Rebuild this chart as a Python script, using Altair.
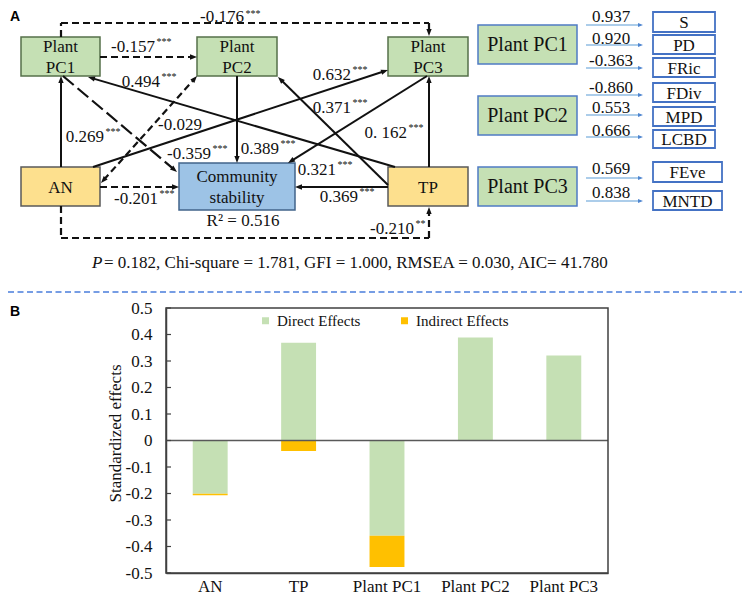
import math
import altair as alt
import pandas as pd

SERIF = "Liberation Serif"
SANS = "Liberation Sans"
INK = "#111111"

# ============================ DATA ============================
# Panel A - structural equation model
node_names = ["Plant PC1", "Plant PC2", "Plant PC3", "AN", "Community stability", "TP"]
node_texts = ["Plant\nPC1", "Plant\nPC2", "Plant\nPC3", "AN", "Community\nstability", "TP"]
node_groups = ["plant", "plant", "plant", "soil", "response", "soil"]

path_from = ["AN", "TP", "Plant PC2", "TP", "AN", "Plant PC1", "TP", "AN",
             "TP", "Plant PC3", "Plant PC1", "AN", "Plant PC1", "AN"]
path_to = ["Plant PC1", "Plant PC3", "Community stability", "Community stability",
           "Community stability", "Plant PC2", "Plant PC1", "Plant PC3", "Plant PC2",
           "Community stability", "Community stability", "Plant PC2", "Plant PC3", "TP"]
path_coef = ["0.269", "0. 162", "0.389", "0.369", "-0.201", "-0.157", "0.494", "0.632",
             "0.371", "0.321", "-0.359", "-0.029", "-0.176", "-0.210"]
path_sig = ["***", "***", "***", "***", "***", "***", "***", "***",
            "***", "***", "***", "", "***", "**"]
r_squared_text = "R² = 0.516"
fit_p_symbol = "P"
fit_stats_text = "= 0.182, Chi-square = 1.781, GFI = 1.000, RMSEA = 0.030,  AIC= 41.780"

# PCA loadings shown on the right of panel A
loading_pc = ["Plant PC1", "Plant PC1", "Plant PC1", "Plant PC2", "Plant PC2", "Plant PC2",
              "Plant PC3", "Plant PC3"]
loading_var = ["S", "PD", "FRic", "FDiv", "MPD", "LCBD", "FEve", "MNTD"]
loading_val = ["0.937", "0.920", "-0.363", "-0.860", "0.553", "0.666", "0.569", "0.838"]
pc_names = ["Plant PC1", "Plant PC2", "Plant PC3"]

# Panel B - standardized effects on community stability
effect_vars = ["AN", "TP", "Plant PC1", "Plant PC2", "Plant PC3"]
direct_effects = [-0.201, 0.369, -0.359, 0.389, 0.321]
indirect_effects = [-0.006, -0.040, -0.118, 0.0, 0.0]
effect_types = ["Direct Effects", "Indirect Effects"]
y_tick_values = [-0.5, -0.4, -0.3, -0.2, -0.1, 0.0, 0.1, 0.2, 0.3, 0.4, 0.5]
y_title = "Standardized effects"

# ============================ LAYOUT (page pixels) ============================
PAGE = 8
W, H = 734, 588
LH = 21  # line height of two-line box labels

box_geom = {
    "Plant PC1": (21, 100, 37, 76),
    "Plant PC2": (197, 277, 37, 76),
    "Plant PC3": (388, 468, 37, 76),
    "AN": (21, 100, 167, 206),
    "Community stability": (179, 295, 163, 210),
    "TP": (388, 468, 167, 206),
}
group_style = {
    "plant": ("#C5E0B4", "#55704A"),
    "soil": ("#FDE08E", "#5A5A5A"),
    "response": ("#9DC3E6", "#41648A"),
}
path_points = [
    [(61, 167), (61, 76)],
    [(429, 167), (429, 76)],
    [(237, 76), (237, 163)],
    [(388, 187), (295, 187)],
    [(100, 187), (179, 187)],
    [(100, 57), (197, 57)],
    [(395, 167), (88, 77)],
    [(93, 167), (388, 70)],
    [(388, 185), (278, 77)],
    [(427, 76), (288, 163)],
    [(63, 76), (177, 172)],
    [(101, 183), (197, 76)],
    [(61, 37), (61, 23), (429, 23), (429, 36)],
    [(61, 206), (61, 238), (429, 238), (429, 207)],
]
path_stroke = ["solid", "solid", "solid", "solid", "dash", "dash", "solid", "solid",
               "solid", "solid", "longdash", "dash", "dash", "dash"]
path_two_heads = [False] * 11 + [True, False, False]
label_anchor = [(104, 137), (407, 133), (279, 149), (358, 197), (158, 199), (155, 47),
                (160, 82), (351, 75), (351, 108), (336, 170), (211, 154), (202, 125),
                (244, 16.5), (414, 229)]
star_dy = [-5] * 12 + [-2.5, -5]

pc_box_geom = {"Plant PC1": (478, 577, 25, 64), "Plant PC2": (478, 577, 96, 135),
               "Plant PC3": (478, 577, 167, 206)}
var_box_geom = [(653, 715, 12, 32), (653, 715, 35, 54), (653, 715, 58, 77),
                (653, 715, 83, 102), (653, 715, 107, 126), (653, 715, 130, 148),
                (653, 722, 162, 182), (653, 722, 191, 210)]
load_arrow_y = [25, 45, 68, 95, 115, 137, 178, 201]
load_arrow_x = (586, 643)
load_label_pos = [(611, 17), (611, 39), (611, 61), (611, 88), (611, 108), (611, 131),
                  (611, 169), (611, 193)]

BX0, BX1 = 166, 608      # panel B frame, page px
BY_TOP, BY_BOT = 308, 573

ARROW = "M0,0L-0.38,1L0.38,1Z"

# ============================ PANEL A ============================
XA = alt.Scale(domain=[PAGE, PAGE + W], range=[0, W], nice=False, zero=False)
YA = alt.Scale(domain=[PAGE, PAGE + H], range=[0, H], nice=False, zero=False)


def X(f):
    return alt.X(f"{f}:Q", scale=XA, axis=None)


def Y(f):
    return alt.Y(f"{f}:Q", scale=YA, axis=None)


# boxes
box_rows = []
text_rows = []
for name, txt, grp in zip(node_names, node_texts, node_groups):
    x0, x1, y0, y1 = box_geom[name]
    fill, stroke = group_style[grp]
    box_rows.append(dict(x=x0, x2=x1, y=y0, y2=y1, fill=fill, stroke=stroke, sw=1.5))
    n_lines = txt.count("\n") + 1
    text_rows.append(dict(x=(x0 + x1) / 2, y=(y0 + y1) / 2 - (n_lines - 1) * LH / 2 + 1,
                          text=txt, fs=17))
for name in pc_names:
    x0, x1, y0, y1 = pc_box_geom[name]
    box_rows.append(dict(x=x0, x2=x1, y=y0, y2=y1, fill="#C5E0B4", stroke="#4F7BC4", sw=1.5))
    text_rows.append(dict(x=(x0 + x1) / 2, y=(y0 + y1) / 2, text=name, fs=20))
for var, (x0, x1, y0, y1) in zip(loading_var, var_box_geom):
    box_rows.append(dict(x=x0, x2=x1, y=y0, y2=y1, fill="#FFFFFF", stroke="#4472C4", sw=1.8))
    text_rows.append(dict(x=(x0 + x1) / 2, y=(y0 + y1) / 2 + 1, text=var, fs=17))
for val, (lx, ly) in zip(loading_val, load_label_pos):
    text_rows.append(dict(x=lx, y=ly, text=val, fs=17))
text_rows.append(dict(x=243, y=221, text=r_squared_text, fs=17))

boxes_df = pd.DataFrame(box_rows)
texts_df = pd.DataFrame(text_rows)

# arrows
seg_rows = []
head_rows = []


def head(p, q, size, col):
    ang = math.degrees(math.atan2(q[0] - p[0], -(q[1] - p[1]))) % 360
    head_rows.append(dict(x=q[0], y=q[1], angle=ang, size=size, col=col))


def trim(p, q, d):
    L = math.hypot(q[0] - p[0], q[1] - p[1])
    return (q[0] - (q[0] - p[0]) / L * d, q[1] - (q[1] - p[1]) / L * d)


for pts, kind, two in zip(path_points, path_stroke, path_two_heads):
    pts = list(pts)
    head(pts[-2], pts[-1], 196, INK)
    pts[-1] = trim(pts[-2], pts[-1], 4)
    if two:
        head(pts[1], pts[0], 196, INK)
        pts[0] = trim(pts[1], pts[0], 4)
    for a, b in zip(pts[:-1], pts[1:]):
        seg_rows.append(dict(x=a[0], y=a[1], x2=b[0], y2=b[1], kind=kind))
for yy in load_arrow_y:
    a, b = (load_arrow_x[0], yy), (load_arrow_x[1], yy)
    head(a, b, 100, "#4F86D0")
    b2 = trim(a, b, 3)
    seg_rows.append(dict(x=a[0], y=a[1], x2=b2[0], y2=b2[1], kind="blue"))

seg_df = pd.DataFrame(seg_rows)
heads_df = pd.DataFrame(head_rows)

coef_df = pd.DataFrame(dict(
    x=[p[0] for p in label_anchor], y=[p[1] for p in label_anchor], text=path_coef))
star_df = pd.DataFrame(dict(
    x=[p[0] + 1.5 for p in label_anchor],
    y=[p[1] + d for p, d in zip(label_anchor, star_dy)], text=path_sig))


def seg_layer(kind, **mk):
    return alt.Chart(seg_df).transform_filter(alt.datum.kind == kind).mark_rule(**mk).encode(
        x=X("x"), y=Y("y"), x2=alt.X2("x2"), y2=alt.Y2("y2"))


layer_boxes = alt.Chart(boxes_df).mark_rect().encode(
    x=X("x"), x2=alt.X2("x2"), y=Y("y"), y2=alt.Y2("y2"),
    fill=alt.Fill("fill:N", scale=None), stroke=alt.Stroke("stroke:N", scale=None),
    strokeWidth=alt.StrokeWidth("sw:Q", scale=None))
layer_texts = alt.Chart(texts_df).mark_text(
    font=SERIF, color=INK, align="center", baseline="middle", lineBreak="\n", lineHeight=LH
).encode(x=X("x"), y=Y("y"), text="text:N", size=alt.Size("fs:Q", scale=None))
layer_solid = seg_layer("solid", color=INK, strokeWidth=2)
layer_dash = seg_layer("dash", color=INK, strokeWidth=2.2, strokeDash=[7, 4])
layer_long = seg_layer("longdash", color=INK, strokeWidth=2.2, strokeDash=[14, 5])
layer_blue = seg_layer("blue", color="#5B9BD5", strokeWidth=1.2)
layer_heads = alt.Chart(heads_df).mark_point(shape=ARROW, filled=True, opacity=1, strokeWidth=0).encode(
    x=X("x"), y=Y("y"), angle=alt.Angle("angle:Q", scale=None),
    size=alt.Size("size:Q", scale=None), fill=alt.Fill("col:N", scale=None))
layer_coef = alt.Chart(coef_df).mark_text(
    font=SERIF, fontSize=17, color=INK, align="right", baseline="middle"
).encode(x=X("x"), y=Y("y"), text="text:N")
layer_star = alt.Chart(star_df).mark_text(
    font=SERIF, fontSize=10, color=INK, align="left", baseline="middle"
).encode(x=X("x"), y=Y("y"), text="text:N")

misc_df = pd.DataFrame([
    dict(x=92, y=263, text=fit_p_symbol, kind="p"),
    dict(x=104, y=263, text=fit_stats_text, kind="fit"),
    dict(x=10, y=10, text="A", kind="panel"),
    dict(x=10, y=305, text="B", kind="panel"),
])
layer_p = alt.Chart(misc_df).transform_filter(alt.datum.kind == "p").mark_text(
    font=SERIF, fontSize=17, fontStyle="italic", color=INK, align="left", baseline="middle"
).encode(x=X("x"), y=Y("y"), text="text:N")
layer_fit = alt.Chart(misc_df).transform_filter(alt.datum.kind == "fit").mark_text(
    font=SERIF, fontSize=17, color=INK, align="left", baseline="middle"
).encode(x=X("x"), y=Y("y"), text="text:N")
layer_panel = alt.Chart(misc_df).transform_filter(alt.datum.kind == "panel").mark_text(
    font=SANS, fontSize=14, fontWeight="bold", color="#000000", align="left", baseline="top"
).encode(x=X("x"), y=Y("y"), text="text:N")

sep_df = pd.DataFrame([dict(x=PAGE, x2=PAGE + W, y=292)])
layer_sep = alt.Chart(sep_df).mark_rule(color="#4A7EDB", strokeWidth=1.5, strokeDash=[6, 3.5]).encode(
    x=X("x"), x2=alt.X2("x2"), y=Y("y"))

panelA = alt.layer(layer_boxes, layer_solid, layer_dash, layer_long, layer_blue, layer_heads,
                   layer_texts, layer_coef, layer_star, layer_p, layer_fit, layer_panel, layer_sep)

# ============================ PANEL B ============================
bars_df = pd.DataFrame({
    "var": effect_vars * 2,
    "type": [effect_types[0]] * len(effect_vars) + [effect_types[1]] * len(effect_vars),
    "value": direct_effects + indirect_effects,
    "ord": [0] * len(effect_vars) + [1] * len(effect_vars),
})

yB = alt.Scale(domain=[-0.5, 0.5], range=[BY_BOT - PAGE, BY_TOP - PAGE], nice=False, zero=False)
xB = alt.Scale(domain=effect_vars, range=[BX0 - PAGE, BX1 - PAGE], paddingInner=0.605,
               paddingOuter=0.3025)

y_axis = alt.Axis(
    orient="left", offset=-(BX0 - PAGE), values=y_tick_values,
    labelExpr="datum.value < 0 ? '-' + format(-datum.value, '.1~f') : format(datum.value, '.1~f')",
    labelFont=SERIF, labelFontSize=17, labelColor=INK, labelPadding=14, labelOverlap=False,
    ticks=False, tickSize=0, domainColor="#404040", domainWidth=1.5, grid=False,
    title=y_title, titleFont=SERIF, titleFontSize=17, titleFontWeight="normal", titleColor=INK,
    titleX=-51, titleY=433 - PAGE, titleBaseline="middle")
x_axis = alt.Axis(
    orient="bottom", offset=(BY_BOT - PAGE) - H, title=None, labelAngle=0,
    labelFont=SERIF, labelFontSize=17, labelColor=INK, labelPadding=5, labelOverlap=False,
    ticks=False, tickSize=0, domainColor="#404040", domainWidth=1.5, grid=False)

bars = alt.Chart(bars_df).mark_bar(opacity=1).encode(
    x=alt.X("var:N", sort=effect_vars, scale=xB, axis=x_axis),
    y=alt.Y("value:Q", stack="zero", scale=yB, axis=y_axis),
    color=alt.Color("type:N", scale=alt.Scale(domain=effect_types, range=["#C5E0B4", "#FFC000"]),
                    legend=alt.Legend(title=None, orient="none", legendX=250, legendY=305,
                                      direction="horizontal", symbolType="square", symbolSize=49,
                                      symbolStrokeWidth=0, symbolOpacity=1,
                                      labelFont=SERIF, labelFontSize=15, labelColor=INK,
                                      columnPadding=36, labelOffset=4, padding=0)),
    order=alt.Order("ord:Q", sort="ascending"))

zero_df = pd.DataFrame({"v": [0.0]})
zero_line = alt.Chart(zero_df).mark_rule(color="#595959", strokeWidth=1.5).encode(
    y=alt.Y("v:Q", scale=yB, axis=y_axis), x=alt.value(BX0 - PAGE), x2=alt.value(BX1 - PAGE))

ticks_df = pd.DataFrame({"v": y_tick_values})
tick_marks = alt.Chart(ticks_df).mark_rule(color="#404040", strokeWidth=1.2).encode(
    y=alt.Y("v:Q", scale=yB, axis=y_axis), x=alt.value(BX0 - PAGE), x2=alt.value(BX0 - PAGE + 5))

frame_df = pd.DataFrame({"top": [y_tick_values[-1]], "bot": [y_tick_values[0]]})
frame = alt.Chart(frame_df).mark_rect(fillOpacity=0, stroke="#404040", strokeWidth=1.5).encode(
    y=alt.Y("top:Q", scale=yB, axis=y_axis), y2=alt.Y2("bot:Q"),
    x=alt.value(BX0 - PAGE), x2=alt.value(BX1 - PAGE))

panelB = alt.layer(bars, zero_line, tick_marks, frame)

chart = alt.layer(panelA, panelB).resolve_scale(
    x="independent", y="independent"
).properties(
    width=W, height=H, padding=0, background="white",
    autosize=alt.AutoSizeParams(type="none")
).configure_view(strokeWidth=0)

chart.save("out.html", embed_options={"renderer": "svg", "actions": False})
